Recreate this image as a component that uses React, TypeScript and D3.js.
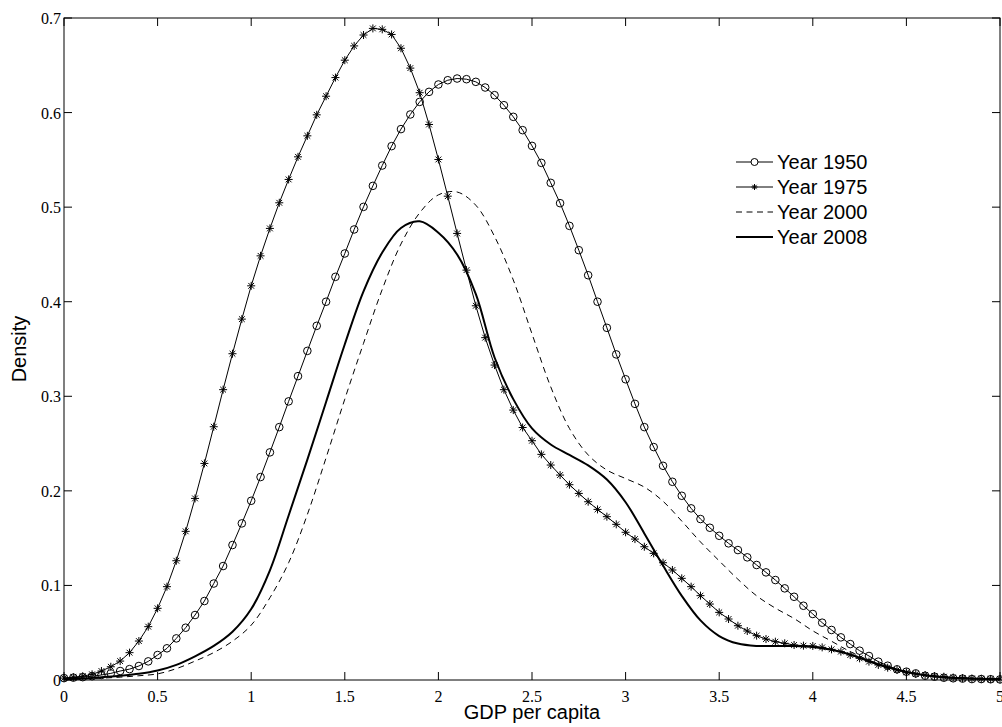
import React from 'react';
import * as d3 from 'd3';

const WIDTH = 1002;
const HEIGHT = 727;
const margin = { top: 18, right: 2, bottom: 47, left: 64 };

// evaluation grids of the kernel density estimates
const gridFine = d3.range(101).map(i => +(i * 0.05).toFixed(2));
const gridCoarse = d3.range(51).map(i => +(i * 0.1).toFixed(1));

// Year 1950 (markers every 0.05)
const density1950 = [
  0.002, 0.0025, 0.003, 0.004, 0.0053, 0.007, 0.0095, 0.0115, 0.0148, 0.0197,
  0.0264, 0.0335, 0.044, 0.0553, 0.0687, 0.0835, 0.102, 0.1205, 0.1427, 0.1656,
  0.1895, 0.2146, 0.2407, 0.2674, 0.2946, 0.3213, 0.348, 0.3745, 0.4, 0.4263,
  0.451, 0.4764, 0.5003, 0.5225, 0.544, 0.5645, 0.5825, 0.598, 0.6113, 0.6219,
  0.6297, 0.6342, 0.636, 0.6353, 0.6325, 0.6265, 0.6184, 0.6078, 0.5955, 0.5814,
  0.5648, 0.5468, 0.5257, 0.5042, 0.4802, 0.4545, 0.428, 0.4, 0.3724, 0.3443,
  0.318, 0.292, 0.2674, 0.2463, 0.2265, 0.2096, 0.1948, 0.1815, 0.1702, 0.161,
  0.1525, 0.1445, 0.1374, 0.1297, 0.1216, 0.1138, 0.1057, 0.0969, 0.088, 0.0785,
  0.0698, 0.0606, 0.0529, 0.0451, 0.038, 0.031, 0.0254, 0.0194, 0.0151, 0.0113,
  0.0088, 0.007, 0.0045, 0.0035, 0.0024, 0.0018, 0.0015, 0.001, 0.001, 0.0008,
  0.0006,
];

// Year 1975 (markers every 0.05)
const density1975 = [
  0.002, 0.003, 0.004, 0.006, 0.0095, 0.014, 0.02, 0.0289, 0.0412, 0.0564,
  0.0758, 0.0987, 0.1261, 0.1572, 0.192, 0.229, 0.2678, 0.307, 0.345, 0.3816,
  0.4168, 0.4485, 0.4775, 0.5046, 0.5293, 0.5532, 0.5754, 0.5976, 0.6173, 0.637,
  0.6554, 0.6705, 0.682, 0.689, 0.688, 0.6826, 0.668, 0.647, 0.621, 0.5874,
  0.5504, 0.5116, 0.4722, 0.4334, 0.3957, 0.362, 0.333, 0.307, 0.2854, 0.267,
  0.253, 0.2386, 0.2273, 0.2167, 0.2065, 0.1973, 0.1885, 0.1804, 0.1727, 0.1646,
  0.1562, 0.149, 0.1409, 0.1339, 0.124, 0.1163, 0.1075, 0.0987, 0.0892, 0.0803,
  0.0715, 0.0645, 0.0574, 0.0518, 0.0469, 0.0433, 0.0405, 0.0388, 0.037, 0.0363,
  0.036, 0.0345, 0.0324, 0.03, 0.0264, 0.0229, 0.0194, 0.0159, 0.013, 0.0106,
  0.0081, 0.0063, 0.0053, 0.0042, 0.0035, 0.0026, 0.002, 0.0015, 0.0012, 0.001,
  0.0008,
];

// Year 2000 (read every 0.1)
const density2000 = [
  0.001, 0.0012, 0.002, 0.003, 0.0045, 0.0065, 0.012, 0.02, 0.029, 0.041,
  0.058, 0.087, 0.124, 0.175, 0.235, 0.297, 0.356, 0.413, 0.461, 0.494,
  0.513, 0.516, 0.502, 0.469, 0.423, 0.366, 0.31, 0.266, 0.238, 0.222,
  0.213, 0.204, 0.189, 0.168, 0.146, 0.126, 0.1065, 0.089, 0.076, 0.065,
  0.052, 0.041, 0.03, 0.021, 0.014, 0.009, 0.005, 0.003, 0.002, 0.0013,
  0.001,
];

// Year 2008 (read every 0.1)
const density2008 = [
  0.001, 0.0015, 0.003, 0.0045, 0.0065, 0.01, 0.016, 0.025, 0.036, 0.051,
  0.075, 0.116, 0.174, 0.233, 0.294, 0.355, 0.411, 0.452, 0.478, 0.485,
  0.473, 0.45, 0.408, 0.341, 0.297, 0.266, 0.249, 0.238, 0.227, 0.212,
  0.188, 0.155, 0.121, 0.089, 0.063, 0.0465, 0.0385, 0.036, 0.036, 0.036,
  0.035, 0.032, 0.027, 0.02, 0.0135, 0.0085, 0.005, 0.003, 0.002, 0.0013,
  0.001,
];

const xTicks = [0, 0.5, 1, 1.5, 2, 2.5, 3, 3.5, 4, 4.5, 5];
const xTickLabels = ['0', '0.5', '1', '1.5', '2', '2.5', '3', '3.5', '4', '4.5', '5'];
const yTicks = [0, 0.1, 0.2, 0.3, 0.4, 0.5, 0.6, 0.7];
const yTickLabels = ['0', '0.1', '0.2', '0.3', '0.4', '0.5', '0.6', '0.7'];
const legendLabels = ['Year 1950', 'Year 1975', 'Year 2000', 'Year 2008'];

const TICK = 8;
const serif = '"Liberation Serif", "DejaVu Serif", serif';
const sans = '"Liberation Sans", Arial, sans-serif';
const starPath = (s: number) =>
  `M${-s},0H${s}M0,${-s}V${s}M${-s * 0.72},${-s * 0.72}L${s * 0.72},${s * 0.72}M${-s * 0.72},${s * 0.72}L${s * 0.72},${-s * 0.72}`;

export default function App() {
  const x = d3.scaleLinear().domain([0, 5]).range([margin.left, WIDTH - margin.right]);
  const y = d3.scaleLinear().domain([0, 0.7]).range([HEIGHT - margin.bottom, margin.top]);

  const pts1950 = gridFine.map((g, i) => [g, density1950[i]] as [number, number]);
  const pts1975 = gridFine.map((g, i) => [g, density1975[i]] as [number, number]);
  const pts2000 = gridCoarse.map((g, i) => [g, density2000[i]] as [number, number]);
  const pts2008 = gridCoarse.map((g, i) => [g, density2008[i]] as [number, number]);

  const linear = d3.line<[number, number]>().x(d => x(d[0])).y(d => y(d[1]));
  const smooth = d3
    .line<[number, number]>()
    .x(d => x(d[0]))
    .y(d => y(d[1]))
    .curve(d3.curveCatmullRom.alpha(0.5));

  const [x0, x1] = x.range();
  const [yb, yt] = y.range();

  // legend layout
  const legX0 = 736;
  const legX1 = 773;
  const legY = 162;
  const legStep = 25;

  return (
    <svg
      width={WIDTH}
      height={HEIGHT}
      style={{ position: 'absolute', left: 0, top: 0, background: '#fff' }}
    >
      <rect width={WIDTH} height={HEIGHT} fill="#fff" />

      {/* curves */}
      <path d={linear(pts1950) || ''} fill="none" stroke="#000" strokeWidth={1} />
      <path d={linear(pts1975) || ''} fill="none" stroke="#000" strokeWidth={1} />
      <path
        d={smooth(pts2000) || ''}
        fill="none"
        stroke="#000"
        strokeWidth={1}
        strokeDasharray="6,4.5"
      />
      <path d={smooth(pts2008) || ''} fill="none" stroke="#000" strokeWidth={2} />

      {/* markers */}
      {pts1950.map((d, i) => (
        <circle key={'c' + i} cx={x(d[0])} cy={y(d[1])} r={3.8} fill="none" stroke="#000" strokeWidth={1} />
      ))}
      {pts1975.map((d, i) => (
        <path
          key={'s' + i}
          d={starPath(4)}
          transform={`translate(${x(d[0])},${y(d[1])})`}
          stroke="#000"
          strokeWidth={1}
        />
      ))}

      {/* axes box */}
      <rect x={x0} y={yt} width={x1 - x0} height={yb - yt} fill="none" stroke="#000" strokeWidth={1} />

      {xTicks.map((t, i) => (
        <g key={'xt' + i}>
          <line x1={x(t)} x2={x(t)} y1={yb} y2={yb - TICK} stroke="#000" />
          <line x1={x(t)} x2={x(t)} y1={yt} y2={yt + TICK} stroke="#000" />
          <text x={x(t)} y={yb + 22} textAnchor="middle" fontFamily={serif} fontSize={16}>
            {xTickLabels[i]}
          </text>
        </g>
      ))}
      {yTicks.map((t, i) => (
        <g key={'yt' + i}>
          <line x1={x0} x2={x0 + TICK} y1={y(t)} y2={y(t)} stroke="#000" />
          <line x1={x1} x2={x1 - TICK} y1={y(t)} y2={y(t)} stroke="#000" />
          <text x={x0 - 3} y={y(t) + 6} textAnchor="end" fontFamily={serif} fontSize={16}>
            {yTickLabels[i]}
          </text>
        </g>
      ))}

      {/* axis labels */}
      <text x={(x0 + x1) / 2} y={719} textAnchor="middle" fontFamily={sans} fontSize={20}>
        GDP per capita
      </text>
      <text
        transform={`translate(26,${(yt + yb) / 2}) rotate(-90)`}
        textAnchor="middle"
        fontFamily={sans}
        fontSize={20}
      >
        Density
      </text>

      {/* legend */}
      {legendLabels.map((label, i) => {
        const cy = legY + i * legStep;
        const mid = (legX0 + legX1) / 2;
        return (
          <g key={'lg' + i}>
            <line
              x1={legX0}
              x2={legX1}
              y1={cy}
              y2={cy}
              stroke="#000"
              strokeWidth={i === 3 ? 2 : 1}
              strokeDasharray={i === 2 ? '6,4.5' : undefined}
            />
            {i === 0 && <circle cx={mid} cy={cy} r={3.5} fill="#fff" stroke="#000" />}
            {i === 1 && <path d={starPath(3)} transform={`translate(${mid},${cy})`} stroke="#000" />}
            <text x={777} y={cy + 7} fontFamily={sans} fontSize={20}>
              {label}
            </text>
          </g>
        );
      })}
    </svg>
  );
}
